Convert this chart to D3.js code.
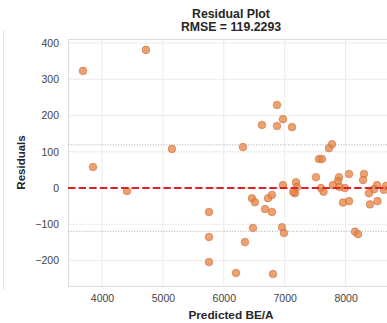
<!DOCTYPE html>
<html>
<head>
<meta charset="utf-8">
<script src="https://cdn.jsdelivr.net/npm/d3@7"></script>
<style>
  html, body { margin: 0; padding: 0; background: #fff; overflow: hidden; }
  svg { display: block; font-family: "Liberation Sans", Arial, sans-serif; }
</style>
</head>
<body>
<svg id="chart" width="387" height="323"></svg>
<script>
// Predicted binding energy per nucleon vs. residual
const predicted = [
  3688, 4722, 3852, 4411, 5149,
  5757, 5757, 5757, 6200, 6348, 6479, 6315,
  6463, 6512, 6726, 6791, 6677, 6791, 6956, 6989, 6808,
  6874, 6627, 6874, 6972, 7120,
  6972, 7169, 7186, 7202, 7140,
  7777, 7727, 7563, 7612, 7514, 7892, 8056, 8302, 8286, 7875,
  7596, 7637, 7793, 7900, 7990, 8516, 8466, 8384,
  7957, 8056, 8401, 8524, 8154, 8204, 8631, 8664
];
const residuals = [
  323, 381, 58, -8, 108,
  -66, -135, -204, -234, -149, -110, 113,
  -28, -39, -28, -19, -58, -66, -108, -124, -237,
  229, 174, 171, 190, 168,
  8, -14, 16, 3, -11,
  121, 110, 80, 80, 30, 30, 39, 39, 22, 19,
  0, -10, 8, 3, 0, 8, -3, -14,
  -40, -36, -45, -36, -120, -127, -5, 6
];
const rmse = 119.2293;
const xTicks = [4000, 5000, 6000, 7000, 8000];
const yTicks = [-200, -100, 0, 100, 200, 300, 400];

const svg = d3.select("#chart");
const pLeft = 68, pRight = 394, pTop = 39, pBottom = 286;

const x = d3.scaleLinear().domain([3442, 8795]).range([pLeft, pRight]);
const y = d3.scaleLinear().domain([-270, 411]).range([pBottom, pTop]);

// neighbouring panel edge
svg.append("line").attr("x1", 3.5).attr("x2", 3.5).attr("y1", 30).attr("y2", 290)
  .attr("stroke", "#e2e2e2").attr("stroke-width", 1);

const plot = svg.append("g");
plot.append("defs").append("clipPath").attr("id", "area")
  .append("rect").attr("x", pLeft).attr("y", pTop).attr("width", pRight - pLeft).attr("height", pBottom - pTop);

// grid
plot.append("g").selectAll("line").data(xTicks).join("line")
  .attr("x1", d => x(d)).attr("x2", d => x(d)).attr("y1", pTop).attr("y2", pBottom)
  .attr("stroke", "#ececec").attr("stroke-width", 1);
plot.append("g").selectAll("line").data(yTicks).join("line")
  .attr("x1", pLeft).attr("x2", pRight).attr("y1", d => y(d)).attr("y2", d => y(d))
  .attr("stroke", "#ececec").attr("stroke-width", 1);

// frame
plot.append("rect").attr("x", pLeft + 0.5).attr("y", pTop + 0.5)
  .attr("width", pRight - pLeft).attr("height", pBottom - pTop)
  .attr("fill", "none").attr("stroke", "#dcdcdc").attr("stroke-width", 1);

// axes (labels only, no tick marks)
const xAxis = d3.axisBottom(x).tickValues(xTicks).tickSize(0).tickPadding(9).tickFormat(d3.format("d"));
const yAxis = d3.axisLeft(y).tickValues(yTicks).tickSize(0).tickPadding(9).tickFormat(d3.format("d"));
const gx = svg.append("g").attr("transform", `translate(0,${pBottom})`).call(xAxis);
const gy = svg.append("g").attr("transform", `translate(${pLeft},0)`).call(yAxis);
[gx, gy].forEach(g => {
  g.select(".domain").remove();
  g.selectAll("text").attr("font-size", 10.5).attr("fill", "#444")
    .attr("font-family", "'Liberation Sans', Arial, sans-serif");
});

// points
const pts = predicted.map((p, i) => ({ p, r: residuals[i] }));
plot.append("g").attr("clip-path", "url(#area)").selectAll("circle").data(pts).join("circle")
  .attr("cx", d => x(d.p)).attr("cy", d => y(d.r)).attr("r", 3.8)
  .attr("fill", "#e8823f").attr("fill-opacity", 0.75)
  .attr("stroke", "#c06a38").attr("stroke-opacity", 0.7).attr("stroke-width", 0.8);

// zero line and ±RMSE band
plot.append("line").attr("x1", pLeft).attr("x2", pRight).attr("y1", y(0)).attr("y2", y(0))
  .attr("stroke", "#e01f26").attr("stroke-width", 2).attr("stroke-dasharray", "7.4,3.2");
[rmse, -rmse].forEach(v => {
  plot.append("line").attr("x1", pLeft).attr("x2", pRight).attr("y1", y(v)).attr("y2", y(v))
    .attr("stroke", "#aaaaaa").attr("stroke-width", 1).attr("stroke-dasharray", "1,1.65");
});

// titles
const cx = (pLeft + pRight) / 2;
svg.append("text").attr("x", cx).attr("y", 18).attr("text-anchor", "middle")
  .attr("font-size", 12.3).attr("font-weight", "bold").attr("fill", "#262626").text("Residual Plot");
svg.append("text").attr("x", cx).attr("y", 31).attr("text-anchor", "middle")
  .attr("font-size", 12.3).attr("font-weight", "bold").attr("fill", "#262626").text("RMSE = " + rmse.toFixed(4));
svg.append("text").attr("x", cx).attr("y", 319).attr("text-anchor", "middle")
  .attr("font-size", 11.8).attr("font-weight", "bold").attr("fill", "#262626").text("Predicted BE/A");
svg.append("text").attr("transform", `translate(25,${(pTop + pBottom) / 2}) rotate(-90)`)
  .attr("text-anchor", "middle").attr("font-size", 11.5).attr("font-weight", "bold")
  .attr("fill", "#262626").text("Residuals");
</script>
</body>
</html>
